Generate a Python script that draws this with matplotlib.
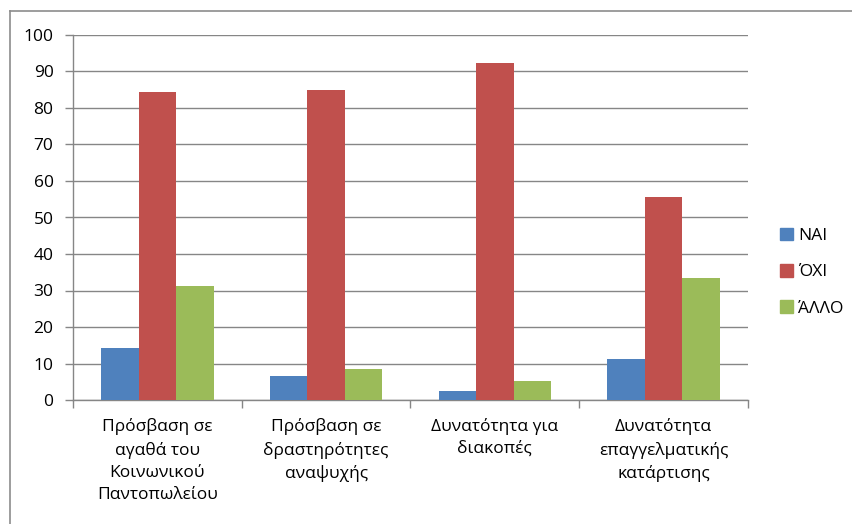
import matplotlib
matplotlib.use("Agg")
import matplotlib.pyplot as plt
from matplotlib.lines import Line2D
import numpy as np

plt.rcParams['font.family'] = ['Open Sans', 'DejaVu Sans']

categories = ["Πρόσβαση σε\nαγαθά του\nΚοινωνικού\nΠαντοπωλείου",
              "Πρόσβαση σε\nδραστηρότητες\nαναψυχής",
              "Δυνατότητα για\nδιακοπές",
              "Δυνατότητα\nεπαγγελματικής\nκατάρτισης"]
series_names = ["ΝΑΙ", "ΌΧΙ", "ΆΛΛΟ"]
nai = [14.2, 6.6, 2.4, 11.2]
oxi = [84.4, 84.9, 92.3, 55.6]
allo = [31.2, 8.5, 5.2, 33.5]
colors = ["#4F81BD", "#C0504D", "#9BBB59"]
yticks = list(range(0, 101, 10))

W, H = 853, 524
fig = plt.figure(figsize=(W / 100, H / 100), dpi=100)
ax = fig.add_axes([73 / W, (H - 400) / H, 675 / W, 365 / H])

x = np.arange(len(categories))
bw = 0.222
for j, (vals, c, name) in enumerate(zip([nai, oxi, allo], colors, series_names)):
    ax.bar(x + (j - 1) * bw, vals, width=bw, color=c, label=name, zorder=3)

ax.set_xlim(-0.5, len(categories) - 0.5)
ax.set_ylim(0, 100)
ax.set_yticks(yticks)
ax.yaxis.grid(True, color="#868686", linewidth=1.0, zorder=0)
ax.set_axisbelow(True)

ax.set_xticks(x)
ax.set_xticklabels(categories, fontsize=12.5, linespacing=1.5, va="top")
ax.tick_params(axis="x", which="major", length=0, pad=13)
ax.set_xticks(np.arange(-0.5, len(categories), 1.0), minor=True)
ax.tick_params(axis="x", which="minor", length=6, color="#868686", width=1)
ax.tick_params(axis="y", length=6, color="#868686", width=1, labelsize=12.5, pad=8)

for s in ["top", "right"]:
    ax.spines[s].set_visible(False)
for s in ["left", "bottom"]:
    ax.spines[s].set_color("#868686")
    ax.spines[s].set_linewidth(1)

# legend
handles = [plt.Rectangle((0, 0), 1, 1, color=c) for c in colors]
leg = fig.legend(handles, series_names, loc="upper left",
                 bbox_to_anchor=(764 / W, 1 - 212 / H), frameon=False,
                 fontsize=12.5, handlelength=0.75, handleheight=0.75,
                 handletextpad=0.3, labelspacing=1.15)

# outer frame (top and left)
fig.add_artist(Line2D([10 / W, 1], [1 - 11 / H, 1 - 11 / H], color="#8c8c8c", lw=1.2))
fig.add_artist(Line2D([10 / W, 10 / W], [0, 1 - 11 / H], color="#8c8c8c", lw=1.2))

fig.savefig("out.png", dpi=100)
